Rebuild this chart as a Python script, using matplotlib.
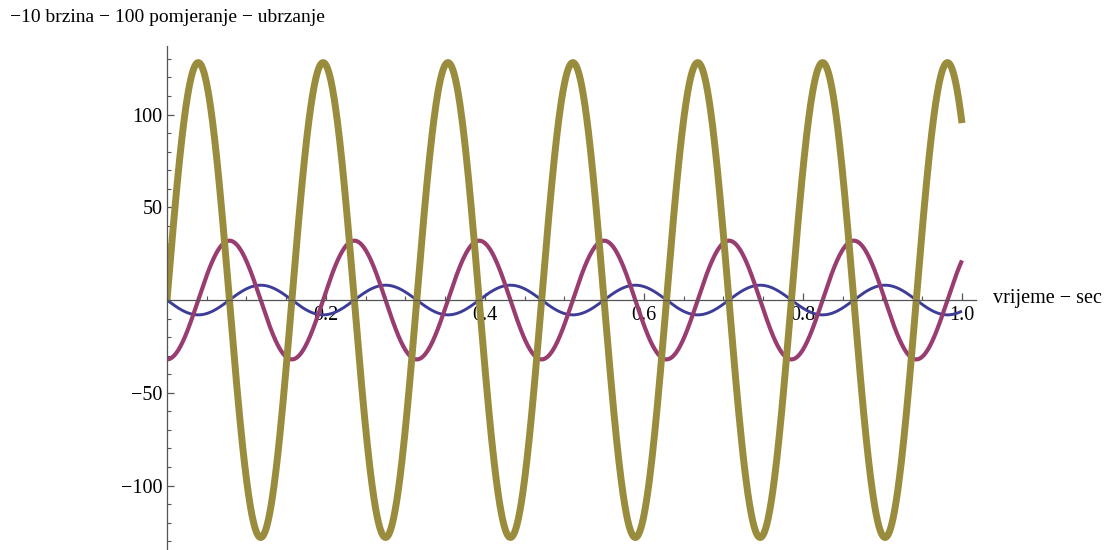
import numpy as np
import matplotlib.pyplot as plt
from matplotlib.ticker import MultipleLocator, FixedLocator

plt.rcParams['font.family'] = ['Liberation Serif', 'DejaVu Serif']
plt.rcParams['axes.unicode_minus'] = True

# values: each curve is a sinusoid, omega in rad/s
omega = 40.0
names = ['100 pomjeranje', '10 brzina', 'ubrzanje']
amplitudes = [-8.0, -32.0, 128.0]
wave = ['sin', 'cos', 'sin']
colors = ['#3d3d99', '#993d71', '#998c3d']
widths = [2.1, 3.0, 5.0]

t = np.linspace(0, 1, 3000)

fig = plt.figure(figsize=(11.07, 5.5), dpi=100)
ax = fig.add_axes([167 / 1107, 1.4 / 550, 808.5 / 1107, 502.7 / 550])

for name, amp, w, c, lw in zip(names, amplitudes, wave, colors, widths):
    f = np.sin if w == 'sin' else np.cos
    ax.plot(t, amp * f(omega * t), color=c, lw=lw, label=name,
            solid_capstyle='butt')

ax.set_xlim(0, 1.017)
ax.set_ylim(-134, 137)

for s in ['top', 'right']:
    ax.spines[s].set_visible(False)
ax.spines['left'].set_position(('data', 0))
ax.spines['bottom'].set_position(('data', 0))
for s in ['left', 'bottom']:
    ax.spines[s].set_color('#555555')
    ax.spines[s].set_linewidth(0.9)

ax.xaxis.set_major_locator(FixedLocator([0.2, 0.4, 0.6, 0.8, 1.0]))
ax.xaxis.set_minor_locator(MultipleLocator(0.05))
ax.yaxis.set_major_locator(FixedLocator([-100, -50, 50, 100]))
ax.yaxis.set_minor_locator(MultipleLocator(10))
ax.xaxis.set_major_formatter(plt.FuncFormatter(lambda v, p: f'{v:.1f}'))
ax.yaxis.set_major_formatter(plt.FuncFormatter(lambda v, p: f'{int(v)}'.replace('-', '\u2212')))

ax.tick_params(which='both', direction='in', color='#555555', labelsize=14.5)
ax.tick_params(which='major', length=5, width=0.9)
ax.tick_params(which='minor', length=3, width=0.8)
ax.tick_params(axis='x', pad=4)
ax.tick_params(axis='y', pad=3)

fig.text(10 / 1107, 1 - 18 / 550, '\u221210 brzina \u2212 100 pomjeranje \u2212 ubrzanje',
         fontsize=14, ha='left', va='center')
fig.text(993 / 1107, 1 - 298 / 550, 'vrijeme \u2212 sec',
         fontsize=14.5, ha='left', va='center')

fig.savefig('out.png', dpi=100)
